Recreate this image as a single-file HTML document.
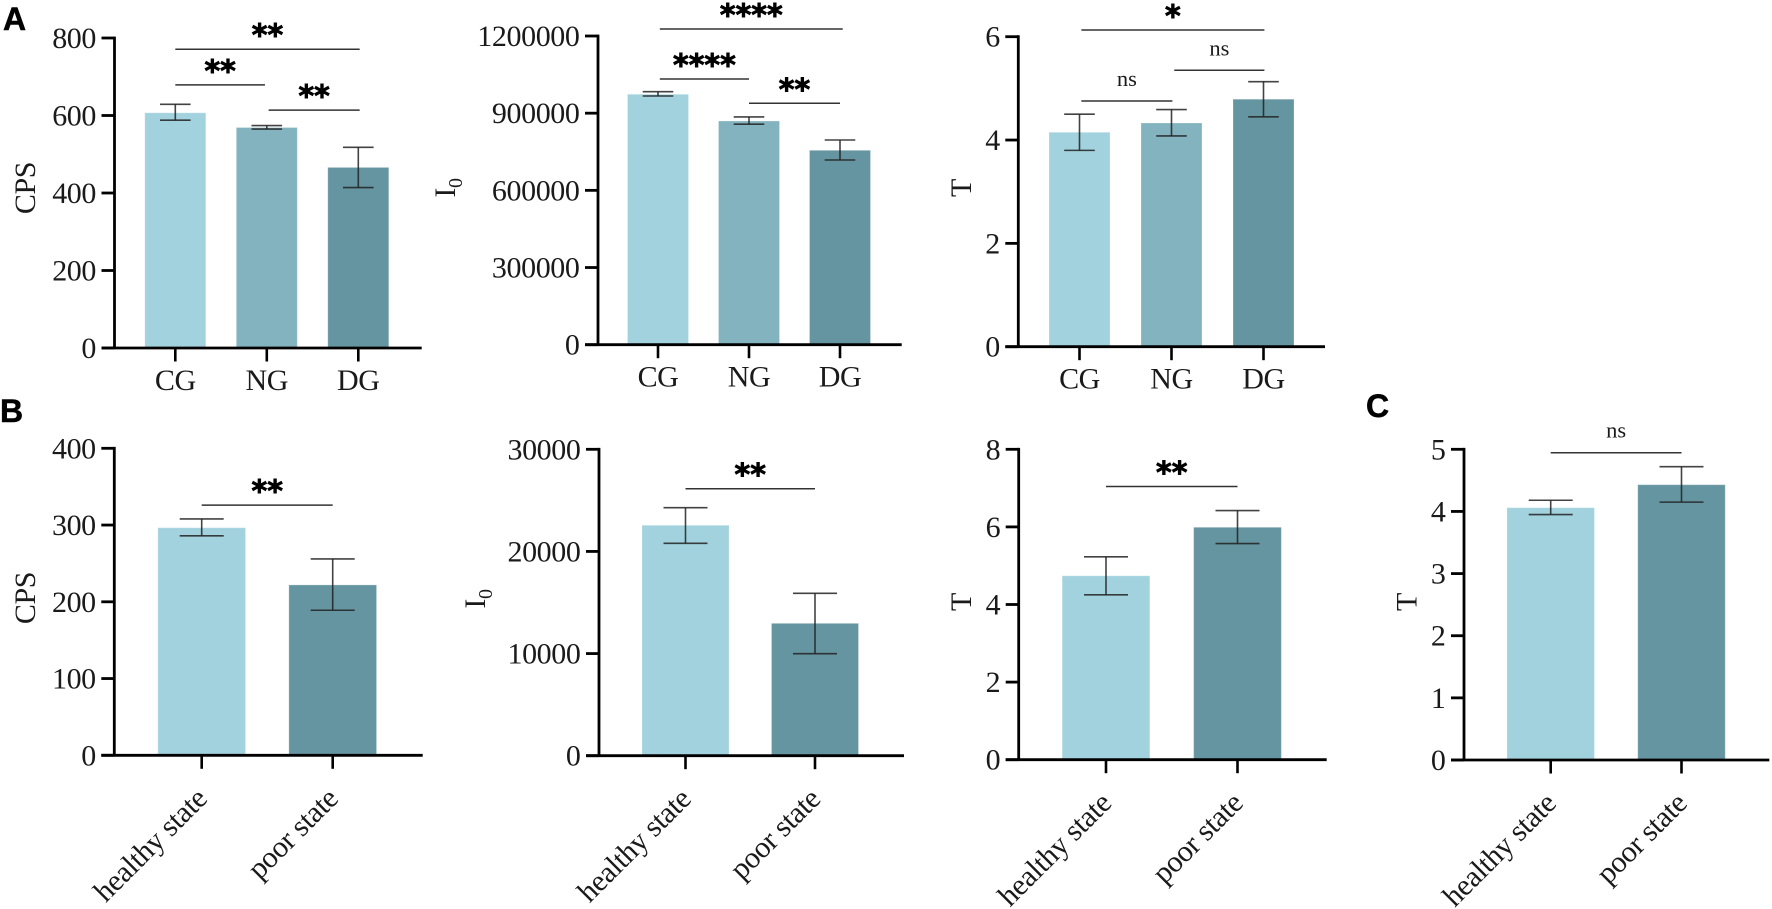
<!DOCTYPE html>
<html lang="en">
<head>
<meta charset="utf-8">
<title>CPS, I0 and T bar charts by group and state</title>
<style>
html,body{margin:0;padding:0;background:#fff;}
svg{display:block;filter:blur(0.35px);}
.tick-label,.axis-title,.cat-label,.ns-label{font-family:"Liberation Serif","Times New Roman",serif;fill:#1a1a1a;font-size:30px;letter-spacing:-0.4px;}
.ns-label{font-size:22.5px;letter-spacing:0;}
.panel-letter{font-family:"Liberation Sans",Arial,sans-serif;font-weight:bold;font-size:32px;fill:#000;stroke:#000;stroke-width:0.5px;}
.star-label{font-family:"DejaVu Sans",sans-serif;font-weight:bold;font-size:30px;fill:#000;stroke:#000;stroke-width:0.9px;}
</style>
</head>
<body>
<svg id="figure" xmlns="http://www.w3.org/2000/svg" width="1772" height="909" viewBox="0 0 1772 909">
  <rect x="0" y="0" width="1772" height="909" fill="#ffffff"/>
  <text class="panel-letter" x="3" y="30">A</text>
  <text class="panel-letter" x="0" y="422">B</text>
  <text class="panel-letter" x="1366" y="417">C</text>

  <text class="axis-title" transform="translate(35 188) rotate(-90)" text-anchor="middle">CPS</text>
  <text class="axis-title" transform="translate(455 188) rotate(-90)" text-anchor="middle">I<tspan font-size="20" dy="7">0</tspan></text>
  <text class="axis-title" transform="translate(971 188) rotate(-90)" text-anchor="middle">T</text>
  <text class="axis-title" transform="translate(35 598) rotate(-90)" text-anchor="middle">CPS</text>
  <text class="axis-title" transform="translate(485 599) rotate(-90)" text-anchor="middle">I<tspan font-size="20" dy="7">0</tspan></text>
  <text class="axis-title" transform="translate(971 602) rotate(-90)" text-anchor="middle">T</text>
  <text class="axis-title" transform="translate(1416.5 602) rotate(-90)" text-anchor="middle">T</text>
</svg>
<script>
// ---- Chart data ----
const groupCategories = ['CG', 'NG', 'DG'];
const stateCategories = ['healthy state', 'poor state'];

const a1Ticks = [0, 200, 400, 600, 800];
const a1Means = [607, 569, 466];
const a1ErrHigh = [629, 574, 518];
const a1ErrLow = [588, 565, 414];
const a1BracketFrom = [0, 0, 1.02];
const a1BracketTo = [2.015, 0.98, 2.015];
const a1BracketValue = [771, 679, 614];
const a1BracketMark = ['**', '**', '**'];

const a2Ticks = [0, 300000, 600000, 900000, 1200000];
const a2Means = [973400, 869600, 755700];
const a2ErrHigh = [983500, 885200, 795700];
const a2ErrLow = [966800, 857000, 718000];
const a2BracketFrom = [0.02, 0.02, 1];
const a2BracketTo = [2.03, 1, 2];
const a2BracketValue = [1227200, 1032900, 938400];
const a2BracketMark = ['****', '****', '**'];

const a3Ticks = [0, 2, 4, 6];
const a3Means = [4.15, 4.33, 4.79];
const a3ErrHigh = [4.50, 4.59, 5.13];
const a3ErrLow = [3.80, 4.08, 4.45];
const a3BracketFrom = [0.02, 0.02, 1.03];
const a3BracketTo = [2.01, 1.01, 2.01];
const a3BracketValue = [6.13, 4.755, 5.35];
const a3BracketMark = ['*', 'ns', 'ns'];

const b1Ticks = [0, 100, 200, 300, 400];
const b1Means = [296.5, 222];
const b1ErrHigh = [308, 255.8];
const b1ErrLow = [286, 189];
const b1BracketFrom = [0];
const b1BracketTo = [1.0];
const b1BracketValue = [326];
const b1BracketMark = ['**'];

const b2Ticks = [0, 10000, 20000, 30000];
const b2Means = [22560, 12960];
const b2ErrHigh = [24280, 15900];
const b2ErrLow = [20800, 9990];
const b2BracketFrom = [0];
const b2BracketTo = [1];
const b2BracketValue = [26140];
const b2BracketMark = ['**'];

const b3Ticks = [0, 2, 4, 6, 8];
const b3Means = [4.74, 5.99];
const b3ErrHigh = [5.23, 6.42];
const b3ErrLow = [4.25, 5.57];
const b3BracketFrom = [0];
const b3BracketTo = [1];
const b3BracketValue = [7.04];
const b3BracketMark = ['**'];

const cTicks = [0, 1, 2, 3, 4, 5];
const cMeans = [4.06, 4.43];
const cErrHigh = [4.18, 4.72];
const cErrLow = [3.95, 4.15];
const cBracketFrom = [0];
const cBracketTo = [1];
const cBracketValue = [4.945];
const cBracketMark = ['ns'];

// ---- Drawing ----
const svgNS = 'http://www.w3.org/2000/svg';
const figure = document.getElementById('figure');
const threeColors = ['#a2d2dd', '#83b3be', '#6495a0'];
const twoColors = ['#a2d2dd', '#6495a0'];

function node(tag, attrs, parent, text) {
  const el = document.createElementNS(svgNS, tag);
  for (const k in attrs) el.setAttribute(k, attrs[k]);
  if (text !== undefined) el.textContent = text;
  parent.appendChild(el);
  return el;
}

function drawPanel(p) {
  const yScale = v => p.y0 - (v / p.ticks[p.ticks.length - 1]) * (p.y0 - p.yTop);
  const xScale = i => p.x0 + p.step * i;

  const g = node('g', {}, figure);
  
  

  p.means.forEach((m, i) => {
    const bar = node('rect', {
      x: xScale(i) - p.barW / 2, y: yScale(m), width: p.barW, height: p.y0 - yScale(m),
      fill: p.colors[i], stroke: '#ffffff', 'stroke-opacity': 0.25, 'stroke-width': 1
    }, g);
    
    
  });

  p.means.forEach((m, i) => {
    const eg = node('g', {stroke: '#222222', 'stroke-opacity': 0.85, 'stroke-width': 1.6, fill: 'none'}, g);
    
    
    const cx = xScale(i);
    node('line', {x1: cx, x2: cx, y1: yScale(p.errHigh[i]), y2: yScale(p.errLow[i])}, eg);
    node('line', {x1: cx - p.capW, x2: cx + p.capW, y1: yScale(p.errHigh[i]), y2: yScale(p.errHigh[i])}, eg);
    node('line', {x1: cx - p.capW, x2: cx + p.capW, y1: yScale(p.errLow[i]), y2: yScale(p.errLow[i])}, eg);
  });

  const yAxis = node('line', {x1: p.axisX, x2: p.axisX, y1: p.yTop - 1.4, y2: p.y0, stroke: '#000', 'stroke-width': 2.8}, g);
  
  
  const xAxis = node('line', {x1: p.axisX - 13, x2: p.xEnd, y1: p.y0, y2: p.y0, stroke: '#000', 'stroke-width': 2.8}, g);
  
  

  p.ticks.forEach(t => {
    const y = yScale(t);
    const mark = node('line', {x1: p.axisX - 13, x2: p.axisX, y1: y, y2: y, stroke: '#000', 'stroke-width': 2.8}, g);
    
    
    const lab = node('text', {class: 'tick-label', x: p.axisX - 18.5, y: y + 10, 'text-anchor': 'end'}, g, String(t));
    
    
  });

  p.categories.forEach((c, i) => {
    const x = xScale(i);
    const mark = node('line', {x1: x, x2: x, y1: p.y0, y2: p.y0 + 13.5, stroke: '#000', 'stroke-width': 2.6}, g);
    
    
    const attrs = {class: 'cat-label'};
    if (p.slanted) {
      attrs['text-anchor'] = 'end';
      attrs.x = x + 7;
      attrs.y = p.y0 + 45;
      attrs.transform = 'rotate(-45 ' + (x + 7) + ' ' + (p.y0 + 45) + ')';
    } else {
      attrs['text-anchor'] = 'middle';
      attrs.x = x;
      attrs.y = p.y0 + 42;
    }
    const lab = node('text', attrs, g, c);
    
    
  });

  p.bracketValue.forEach((v, i) => {
    const y = yScale(v);
    const x1 = xScale(p.bracketFrom[i]);
    const x2 = xScale(p.bracketTo[i]);
    const line = node('line', {x1: x1, x2: x2, y1: y, y2: y, stroke: '#333', 'stroke-width': 1.5}, g);
    
    
    const isNs = p.bracketMark[i] === 'ns';
    const lab = node('text', {
      class: isNs ? 'ns-label' : 'star-label',
      x: (x1 + x2) / 2, y: isNs ? y - 15 : y - 3.5, 'text-anchor': 'middle'
    }, g, p.bracketMark[i]);
    
    
  });
}

drawPanel({id: 'a1', categories: groupCategories, ticks: a1Ticks, means: a1Means, errHigh: a1ErrHigh, errLow: a1ErrLow,
  bracketFrom: a1BracketFrom, bracketTo: a1BracketTo, bracketValue: a1BracketValue, bracketMark: a1BracketMark,
  colors: threeColors, axisX: 114.5, xEnd: 421.7, yTop: 38, y0: 348, x0: 175.3, step: 91.5, barW: 61, capW: 15.3, slanted: false});

drawPanel({id: 'a2', categories: groupCategories, ticks: a2Ticks, means: a2Means, errHigh: a2ErrHigh, errLow: a2ErrLow,
  bracketFrom: a2BracketFrom, bracketTo: a2BracketTo, bracketValue: a2BracketValue, bracketMark: a2BracketMark,
  colors: threeColors, axisX: 598, xEnd: 901.7, yTop: 36, y0: 344.7, x0: 658, step: 91, barW: 61, capW: 15.3, slanted: false});

drawPanel({id: 'a3', categories: groupCategories, ticks: a3Ticks, means: a3Means, errHigh: a3ErrHigh, errLow: a3ErrLow,
  bracketFrom: a3BracketFrom, bracketTo: a3BracketTo, bracketValue: a3BracketValue, bracketMark: a3BracketMark,
  colors: threeColors, axisX: 1018.3, xEnd: 1325, yTop: 36.7, y0: 346.7, x0: 1079.5, step: 92, barW: 61, capW: 15.3, slanted: false});

drawPanel({id: 'b1', categories: stateCategories, ticks: b1Ticks, means: b1Means, errHigh: b1ErrHigh, errLow: b1ErrLow,
  bracketFrom: b1BracketFrom, bracketTo: b1BracketTo, bracketValue: b1BracketValue, bracketMark: b1BracketMark,
  colors: twoColors, axisX: 114.3, xEnd: 422.7, yTop: 448.3, y0: 755.3, x0: 201.7, step: 131, barW: 87.7, capW: 22, slanted: true});

drawPanel({id: 'b2', categories: stateCategories, ticks: b2Ticks, means: b2Means, errHigh: b2ErrHigh, errLow: b2ErrLow,
  bracketFrom: b2BracketFrom, bracketTo: b2BracketTo, bracketValue: b2BracketValue, bracketMark: b2BracketMark,
  colors: twoColors, axisX: 599, xEnd: 904, yTop: 449.3, y0: 755.7, x0: 685.5, step: 129.5, barW: 87, capW: 22, slanted: true});

drawPanel({id: 'b3', categories: stateCategories, ticks: b3Ticks, means: b3Means, errHigh: b3ErrHigh, errLow: b3ErrLow,
  bracketFrom: b3BracketFrom, bracketTo: b3BracketTo, bracketValue: b3BracketValue, bracketMark: b3BracketMark,
  colors: twoColors, axisX: 1018.7, xEnd: 1326.7, yTop: 449.3, y0: 759.7, x0: 1106, step: 131.5, barW: 87.7, capW: 22, slanted: true});

drawPanel({id: 'c', categories: stateCategories, ticks: cTicks, means: cMeans, errHigh: cErrHigh, errLow: cErrLow,
  bracketFrom: cBracketFrom, bracketTo: cBracketTo, bracketValue: cBracketValue, bracketMark: cBracketMark,
  colors: twoColors, axisX: 1464, xEnd: 1769.3, yTop: 449.3, y0: 760, x0: 1550.7, step: 130.8, barW: 87.5, capW: 22, slanted: true});
</script>
</body>
</html>
